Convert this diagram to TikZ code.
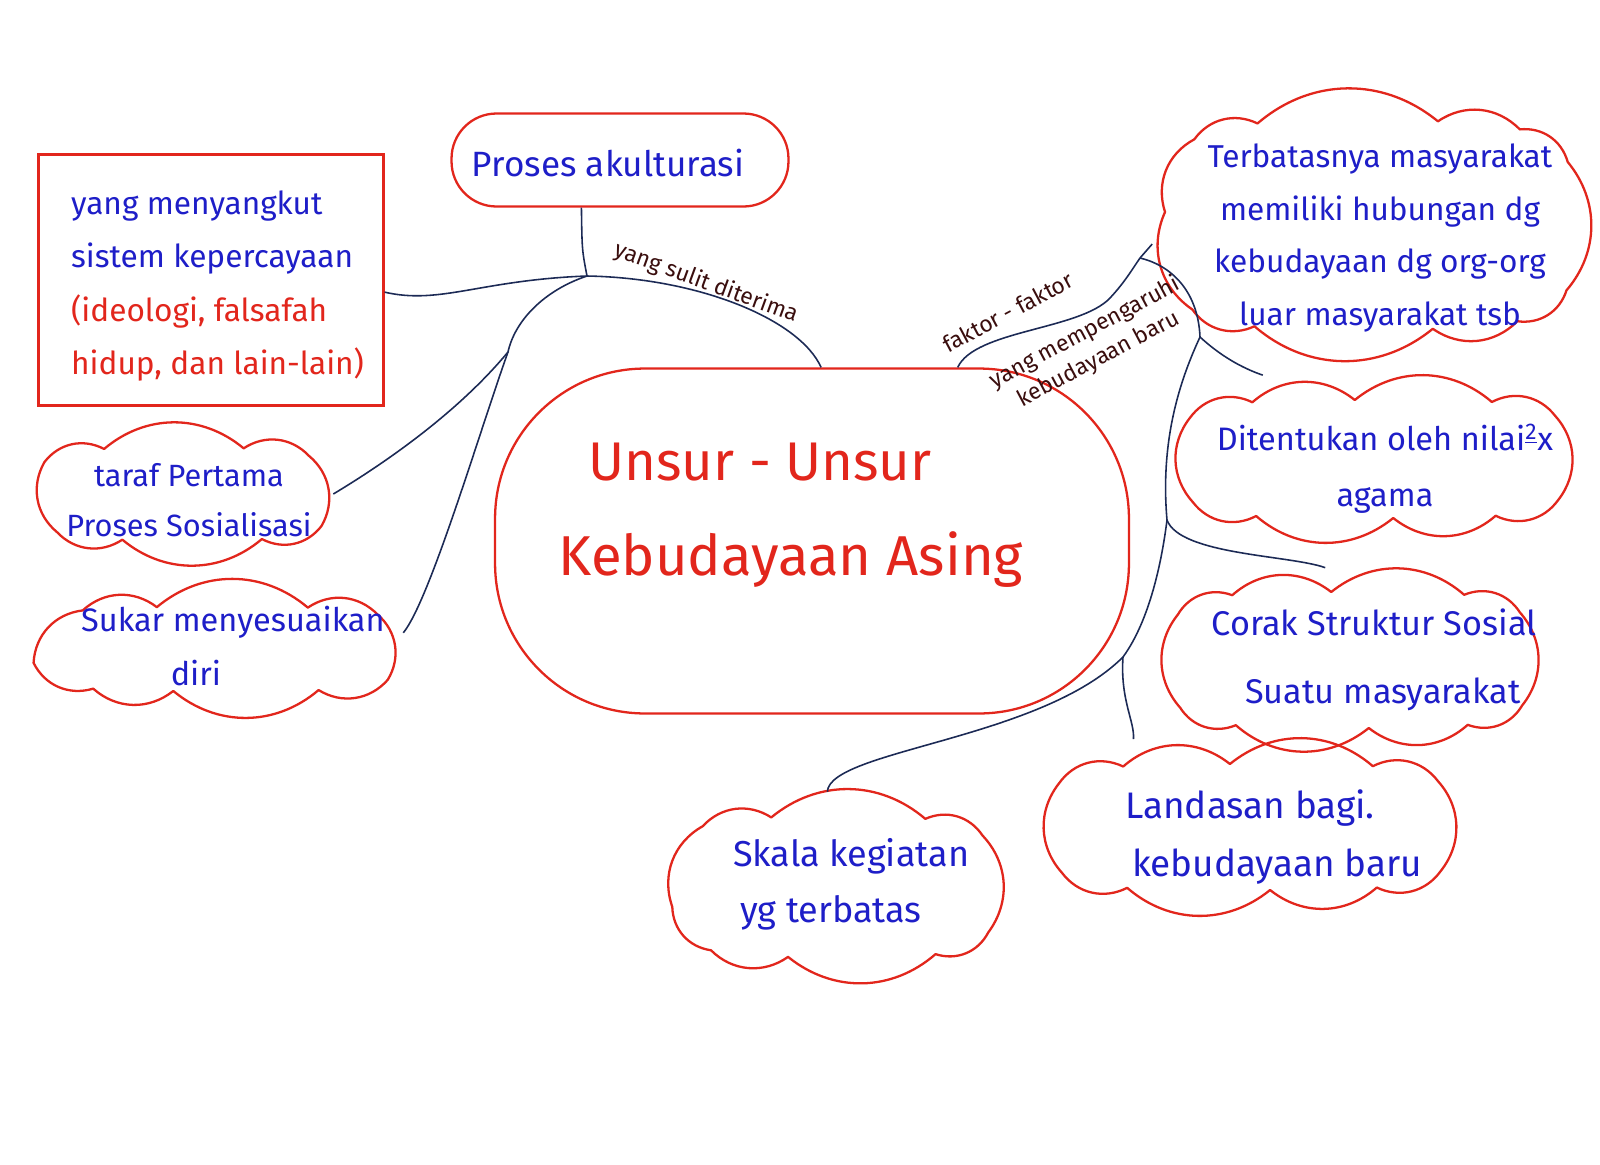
\documentclass[tikz,border=0pt]{standalone}
\usepackage{fontspec}
\setmainfont{Fira Sans}
\usetikzlibrary{shapes.geometric, positioning}

\definecolor{penred}{HTML}{E2261C}
\definecolor{penblue}{HTML}{1E1EC8}
\definecolor{pennavy}{HTML}{1C2A55}
\definecolor{penbrown}{HTML}{3A0E0E}

% awan: node, setengah lebar, setengah tinggi, jumlah gumpalan
\newcommand{\puffcloud}[4]{%
  \draw[redbox, line join=round, shift={(#1.center)}]
    \foreach \k [evaluate={\k as \pa using atan2(sqrt(#2)*sin(17+360*\k/#4), sqrt(#3)*cos(17+360*\k/#4))}] in {0,...,#4} {
      \ifnum\k=0 ({#2*cos(\pa)/sqrt(abs(cos(\pa)))},{#3*sin(\pa)/sqrt(abs(sin(\pa)))})
      \else to[bend left=40] ({#2*cos(\pa)/sqrt(abs(cos(\pa)))},{#3*sin(\pa)/sqrt(abs(sin(\pa)))}) \fi };
}

\begin{document}
\begin{tikzpicture}[x=0.02cm, y=-0.02cm]
	\tikzstyle{cloudbox}=[rectangle, inner sep=0pt]
	\tikzstyle{redbox}=[draw=penred, line width=1.3pt]
	\tikzstyle{bluetext}=[text=penblue, font=\fontsize{18}{30}\selectfont, align=center]
	\tikzstyle{link}=[draw=pennavy, line width=0.9pt]
	\tikzstyle{linklabel}=[text=penbrown, font=\fontsize{13}{17}\selectfont, align=center]

	\useasboundingbox[fill=white] (0,0) rectangle (1600,1164);

	% tengah
	\node (unsur) at (812,541) [rectangle, rounded corners=3cm, redbox, minimum width=12.68cm, minimum height=6.9cm] {};
	\node at (760,462) [text=penred, font=\fontsize{31}{57}\selectfont] {Unsur - Unsur};
	\node at (791,560) [text=penred, font=\fontsize{32}{57}\selectfont] {Kebudayaan Asing};

	% kiri
	\node (kepercayaan) at (211,280) [rectangle, redbox, minimum width=6.9cm, minimum height=5.02cm] {};
	\node at (65,286) [anchor=west, align=left, font=\fontsize{18}{30.5}\selectfont] {\textcolor{penblue}{yang menyangkut}\\ \textcolor{penblue}{sistem kepercayaan}\\ \textcolor{penred}{(ideologi, falsafah}\\ \textcolor{penred}{hidup, dan lain-lain)}};

	\node (akulturasi) at (620,160) [rectangle, rounded corners=0.9cm, redbox, minimum width=6.74cm, minimum height=1.86cm] {};
	\node at (608,163) [bluetext, font=\fontsize{20}{30}\selectfont] {Proses akulturasi};

	\node (taraf) at (183,494) [cloudbox, minimum width=6cm, minimum height=2.68cm] {};
	\puffcloud{taraf}{148}{46}{8}
	\node at (189,500) [bluetext, font=\fontsize{17.5}{28.5}\selectfont] {taraf Pertama\\ Proses Sosialisasi};

	\node (sukar) at (218,649) [cloudbox, minimum width=7.4cm, minimum height=2.6cm] {};
	\puffcloud{sukar}{185}{42}{9}
	\node at (75,646) [bluetext, anchor=west, align=left, font=\fontsize{18.5}{31}\selectfont] {Sukar menyesuaikan\\ \hspace*{51pt}diri};

	% kanan
	\node (terbatas) at (1370,225) [cloudbox, minimum width=8.7cm, minimum height=5.38cm] {};
	\puffcloud{terbatas}{205}{104}{11}
	\node at (1380,238) [bluetext] {Terbatasnya masyarakat\\ memiliki hubungan dg\\ kebudayaan dg org-org\\ luar masyarakat tsb};

	\node (ditentukan) at (1374,459) [cloudbox, minimum width=8.12cm, minimum height=3.34cm] {};
	\puffcloud{ditentukan}{197}{59}{10}
	\node at (1385,469) [bluetext, font=\fontsize{18.5}{32}\selectfont] {Ditentukan oleh nilai\textsuperscript{\underline{2}}x\\ agama};

	\node (corak) at (1350,660) [cloudbox, minimum width=7.64cm, minimum height=3.68cm] {};
	\puffcloud{corak}{182}{68}{10}
	\node at (1374,660) [bluetext, font=\fontsize{19.5}{39}\selectfont] {Corak Struktur Sosial\\ \hspace*{10pt}Suatu masyarakat};

	\node (landasan) at (1250,827) [cloudbox, minimum width=8.36cm, minimum height=3.5cm] {};
	\puffcloud{landasan}{204}{63}{10}
	\node at (1119,837) [bluetext, anchor=west, align=left, font=\fontsize{21}{33}\selectfont] {Landasan bagi.\\ \hspace*{4pt}kebudayaan baru};

	\node (skala) at (834,887) [cloudbox, minimum width=6.84cm, minimum height=3.8cm] {};
	\puffcloud{skala}{162}{70}{9}
	\node at (727,884) [bluetext, anchor=west, align=left, font=\fontsize{20.5}{32}\selectfont] {Skala kegiatan\\ \hspace*{4pt}yg terbatas};

	% garis kiri
	\coordinate (jl) at (587,276);
	\coordinate (jm) at (508,352);
	\draw[link] (akulturasi.231) .. controls (582,250) .. (jl);
	\draw[link] (kepercayaan.-4) .. controls (440,305) and (480,280) .. (jl);
	\draw[link] (jl) .. controls (700,278) and (800,320) .. (unsur.87);
	\draw[link] (jl) .. controls (545,290) and (515,320) .. (jm) .. controls (480,430) and (430,600) .. (sukar.5);
	\draw[link] (taraf.east) .. controls (390,460) and (460,410) .. (jm);
	\node[linklabel, rotate=-20] (sulit) at (706,283) {yang sulit diterima};

	% garis kanan
	\coordinate (hub) at (1140,258);
	\coordinate (bd) at (1200,337);
	\coordinate (bc) at (1167,520);
	\coordinate (jr) at (1123,657);
	\draw[link] (unsur.50) .. controls (975,330) and (1080,330) .. (1110,298) .. controls (1125,282) and (1133,268) .. (hub);
	\draw[link] (hub) -- (terbatas.185);
	\draw[link] (hub) .. controls (1170,265) and (1198,290) .. (bd) .. controls (1180,380) and (1160,440) .. (bc) .. controls (1162,560) and (1150,620) .. (jr);
	\draw[link] (bd) .. controls (1225,360) and (1248,370) .. (ditentukan.143);
	\draw[link] (bc) .. controls (1180,555) and (1290,555) .. (corak.105);
	\draw[link] (jr) .. controls (1120,700) and (1135,722) .. (landasan.143);
	\draw[link] (jr) .. controls (1040,740) and (830,750) .. (skala.94);
	\node[linklabel, rotate=28] (faktor) at (1008,312) {faktor - faktor};
	\node[linklabel, rotate=28] (pengaruh) at (1092,346) {yang mempengaruhi\\ kebudayaan baru};
\end{tikzpicture}
\end{document}
